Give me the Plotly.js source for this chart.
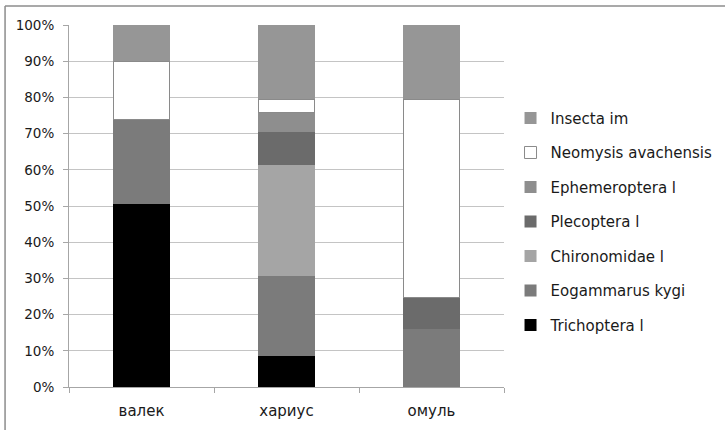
<!DOCTYPE html>
<html>
<head>
<meta charset="utf-8">
<script src="https://cdn.plot.ly/plotly-3.0.1.min.js"></script>
<style>html,body{margin:0;padding:0;background:#fff;}#chart{width:725px;height:430px;}</style>
</head>
<body>
<div id="chart"></div>
<script>
// Categories (fish species)
const categories = ['валек', 'хариус', 'омуль'];
// Series (percent of diet), bottom to top in the stack
const seriesNames = ['Trichoptera l', 'Eogammarus kygi', 'Chironomidae l', 'Plecoptera l', 'Ephemeroptera l', 'Neomysis avachensis', 'Insecta im'];
const trichoptera   = [50.5, 8.5, 0];
const eogammarus    = [23.5, 22.2, 16.0];
const chironomidae  = [0, 30.7, 0];
const plecoptera    = [0, 9.1, 8.6];
const ephemeroptera = [0, 5.3, 0];
const neomysis      = [16.0, 3.7, 54.9];
const insecta       = [10.0, 20.5, 20.5];
const yTickVals = [0, 10, 20, 30, 40, 50, 60, 70, 80, 90, 100];
const yTickText = ['0%', '10%', '20%', '30%', '40%', '50%', '60%', '70%', '80%', '90%', '100%'];

const seriesValues = [trichoptera, eogammarus, chironomidae, plecoptera, ephemeroptera, neomysis, insecta];
const colors = ['#000000', '#7b7b7b', '#a5a5a5', '#6b6b6b', '#8e8e8e', '#ffffff', '#969696'];
const lineColors = ['rgba(0,0,0,0)', 'rgba(0,0,0,0)', 'rgba(0,0,0,0)', 'rgba(0,0,0,0)', 'rgba(0,0,0,0)', '#8a8a8a', 'rgba(0,0,0,0)'];

const traces = seriesNames.map((name, i) => ({
  type: 'bar',
  name: name,
  x: categories,
  y: seriesValues[i],
  legendgroup: 'g' + i,
  legendrank: seriesNames.length - i,
  marker: {color: colors[i], line: {color: lineColors[i], width: i === 5 ? 1 : 0}},
  hoverinfo: 'skip'
}));

const fontFam = '"DejaVu Sans", sans-serif';
const layout = {
  width: 725, height: 430,
  margin: {l: 69, r: 221, t: 25, b: 43, pad: 0, autoexpand: false},
  paper_bgcolor: '#ffffff', plot_bgcolor: '#ffffff',
  barmode: 'stack',
  bargap: 0.607,
  showlegend: true,
  font: {family: fontFam, size: 14, color: '#1a1a1a'},
  legend: {
    x: 1.015, y: 0.788, xanchor: 'left', yanchor: 'top',
    traceorder: 'grouped', tracegroupgap: 12,
    font: {family: fontFam, size: 15, color: '#1a1a1a'},
    itemwidth: 30, bgcolor: 'rgba(0,0,0,0)'
  },
  xaxis: {
    type: 'category',
    showgrid: false, showline: true, linecolor: '#a6a6a6', linewidth: 1,
    ticks: 'outside', tickson: 'boundaries', ticklen: 5, tickcolor: '#a6a6a6',
    tickfont: {family: fontFam, size: 15, color: '#1a1a1a'},
    ticklabelstandoff: 10,
    zeroline: false, fixedrange: true, automargin: false
  },
  yaxis: {
    range: [0, 100],
    tickvals: yTickVals, ticktext: yTickText,
    showgrid: true, gridcolor: '#c4c4c4', gridwidth: 1,
    showline: true, linecolor: '#a6a6a6', linewidth: 1,
    ticks: 'outside', ticklen: 5, tickcolor: '#a6a6a6',
    tickfont: {family: fontFam, size: 13.5, color: '#1a1a1a'},
    ticklabelstandoff: 6,
    zeroline: false, fixedrange: true, automargin: false
  },
  shapes: [
    {type: 'line', xref: 'paper', yref: 'paper', x0: -0.147, x1: -0.147, y0: -0.2, y1: 1.0525, line: {color: '#8c8c8c', width: 1.5}},
    {type: 'line', xref: 'paper', yref: 'paper', x0: -0.147, x1: 1.6, y0: 1.0525, y1: 1.0525, line: {color: '#8c8c8c', width: 1.5}}
  ]
};

Plotly.newPlot('chart', traces, layout, {displayModeBar: false, staticPlot: true});
</script>
</body>
</html>
